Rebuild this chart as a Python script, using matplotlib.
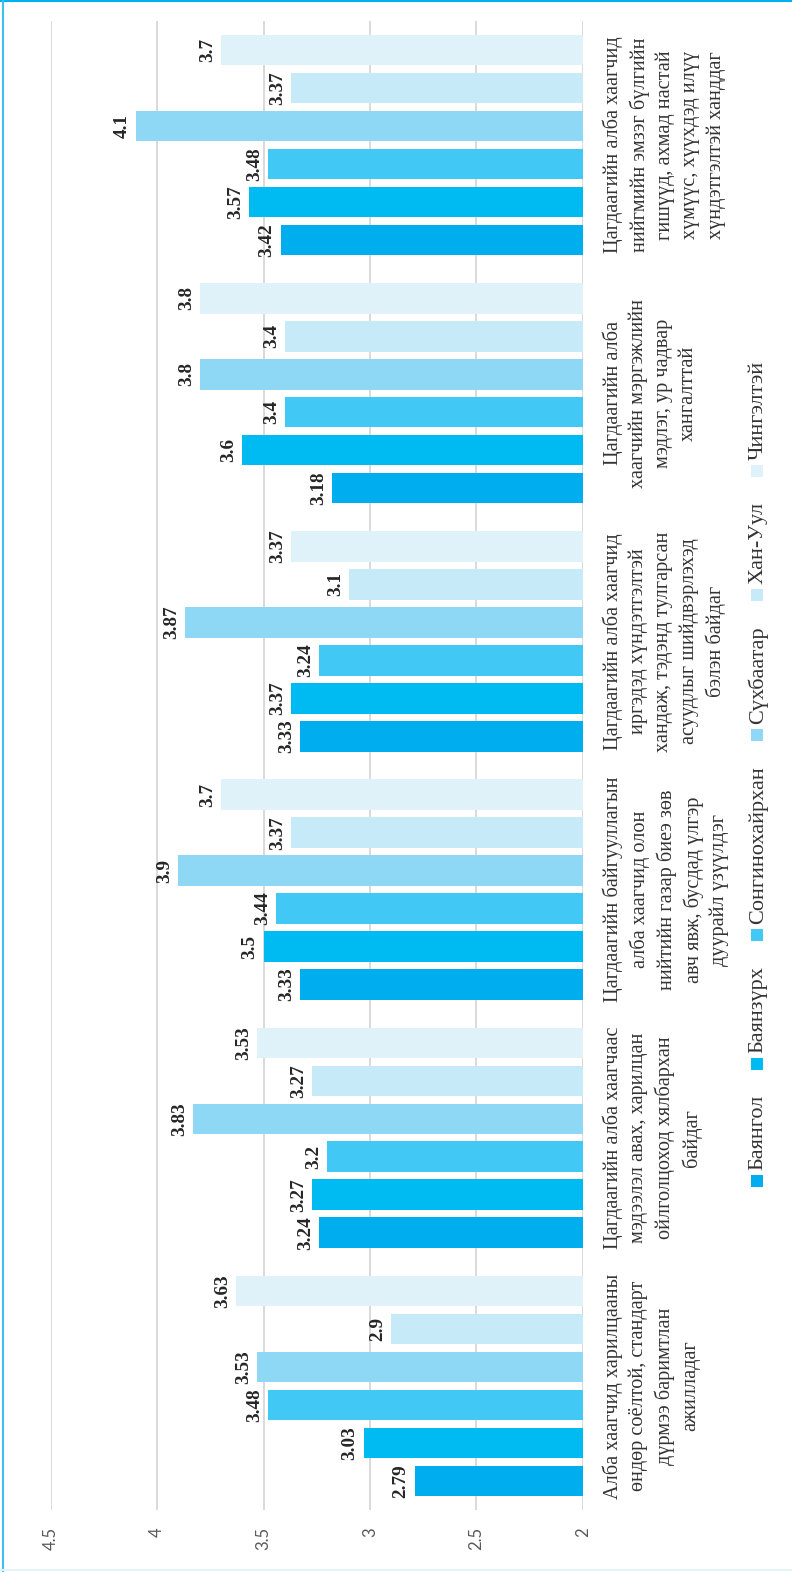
import numpy as np
import matplotlib
matplotlib.use("Agg")
import matplotlib.pyplot as plt
from matplotlib.patches import Rectangle
from matplotlib.lines import Line2D

# ---------------- data ----------------
categories = [
    "Алба хаагчид харилцааны\nөндөр соёлтой, стандарт\nдүрмээ баримтлан\nажилладаг",
    "Цагдаагийн алба хаагчаас\nмэдээлэл авах, харилцан\nойлголцоход хялбархан\nбайдаг",
    "Цагдаагийн байгууллагын\nалба хаагчид олон\nнийтийн газар биеэ зөв\nавч явж, бусдад үлгэр\nдуурайл үзүүлдэг",
    "Цагдаагийн алба хаагчид\nиргэдэд хүндэтгэлтэй\nхандаж, тэдэнд тулгарсан\nасуудлыг шийдвэрлэхэд\nбэлэн байдаг",
    "Цагдаагийн алба\nхаагчийн мэргэжлийн\nмэдлэг, ур чадвар\nхангалттай",
    "Цагдаагийн алба хаагчид\nнийгмийн эмзэг бүлгийн\nгишүүд, ахмад настай\nхүмүүс, хүүхдэд илүү\nхүндэтгэлтэй ханддаг",
]

series_names = ["Баянгол", "Баянзүрх", "Сонгинохайрхан", "Сүхбаатар", "Хан-Уул", "Чингэлтэй"]
bayangol         = [2.79, 3.24, 3.33, 3.33, 3.18, 3.42]
bayanzurkh       = [3.03, 3.27, 3.50, 3.37, 3.60, 3.57]
songinokhairkhan = [3.48, 3.20, 3.44, 3.24, 3.40, 3.48]
sukhbaatar       = [3.53, 3.83, 3.90, 3.87, 3.80, 4.10]
khan_uul         = [2.90, 3.27, 3.37, 3.10, 3.40, 3.37]
chingeltei       = [3.63, 3.53, 3.70, 3.37, 3.80, 3.70]
series_values = [bayangol, bayanzurkh, songinokhairkhan, sukhbaatar, khan_uul, chingeltei]
colors = ["#00AEEF", "#00BAF2", "#41C8F4", "#8ED8F6", "#C7EAF8", "#DFF2FA"]
x_ticks = [2, 2.5, 3, 3.5, 4, 4.5]
x_tick_labels = ["2", "2.5", "3", "3.5", "4", "4.5"]

# ---------------- layout ----------------
W, H = 792, 1572
SERIF = ["Liberation Serif", "DejaVu Serif"]
fig = plt.figure(figsize=(W / 100, H / 100), dpi=100)
fig.patch.set_facecolor("white")

x0, x1 = 50.7, 582.7      # pixel x of 4.5 and 2
y_top, y_bot = 21, 1510   # pixel y of plot top / bottom
ax = fig.add_axes([x0 / W, 1 - y_bot / H, (x1 - x0) / W, (y_bot - y_top) / H])
ax.set_xlim(4.5, 2)
ax.set_ylim(0.5, 6.5)
for s in ax.spines.values():
    s.set_visible(False)

step = 0.153
bar_h = 0.123
cat_pos = np.arange(1, len(categories) + 1)
n = len(series_names)
for j, (name, vals, col) in enumerate(zip(series_names, series_values, colors)):
    ypos = cat_pos + (j - (n - 1) / 2) * step
    ax.barh(ypos, vals, height=bar_h, color=col, zorder=2)
    for yv, v in zip(ypos, vals):
        ax.annotate(f"{v:g}", xy=(v, yv), xytext=(-3.5, 0), textcoords="offset points",
                    rotation=90, ha="right", va="center", fontsize=13.8,
                    fontweight="bold", family=SERIF, color="#262626", zorder=3)

ax.set_xticks(x_ticks)
ax.set_xticklabels(x_tick_labels)
ax.set_yticks([])
ax.grid(axis="x", color="#D9D9D9", linewidth=1.4, zorder=0)
ax.set_axisbelow(True)
ax.tick_params(axis="x", length=0, pad=12.5, labelsize=12, labelcolor="#595959",
               labelrotation=90)
for lbl in ax.get_xticklabels():
    lbl.set_family(["Lato", "DejaVu Sans"])

for yc, lab in zip(cat_pos, categories):
    ax.annotate(lab, xy=(1, yc), xycoords=("axes fraction", "data"),
                xytext=(14, 0), textcoords="offset points",
                rotation=90, ha="left", va="center", multialignment="center",
                linespacing=1.42, fontsize=14.6, family=SERIF, color="#333333",
                annotation_clip=False)

# ---------------- legend (rotated, manual) ----------------
renderer = fig.canvas.get_renderer()
leg_fs = 16
sq = 12
gap_sq_text = 5
gap_entry = 25
leg_xc = 757
texts = []
lengths = []
for name in series_names:
    t = fig.text(0, 0, name, rotation=90, fontsize=leg_fs, family=SERIF, color="#333333",
                 ha="center", va="bottom")
    bb = t.get_window_extent(renderer)
    texts.append(t)
    lengths.append(bb.height)
total = sum(sq + gap_sq_text + L for L in lengths) + gap_entry * (n - 1)
center_y = 774
cur = center_y + total / 2  # pixel y from top, bottom of first entry
for t, L, col in zip(texts, lengths, colors):
    fig.patches.append(Rectangle(((leg_xc - sq / 2) / W, 1 - cur / H), sq / W, sq / H,
                                 transform=fig.transFigure, facecolor=col,
                                 edgecolor="none", figure=fig))
    cur -= sq + gap_sq_text
    t.set_position(((leg_xc + 1) / W, 1 - cur / H))
    cur -= L + gap_entry

# ---------------- frame ----------------
fig.add_artist(Line2D([0, 1], [1 - 1 / H, 1 - 1 / H], transform=fig.transFigure,
                      color="#00B0F0", linewidth=1.5))
fig.add_artist(Line2D([3 / W, 3 / W], [0, 1], transform=fig.transFigure,
                      color="#3CC0EE", linewidth=1.5))
fig.add_artist(Line2D([0, 1], [1 - 1570 / H, 1 - 1570 / H], transform=fig.transFigure,
                      color="#E3F4FB", linewidth=1.5))

fig.savefig("out.png", dpi=100, facecolor="white")
